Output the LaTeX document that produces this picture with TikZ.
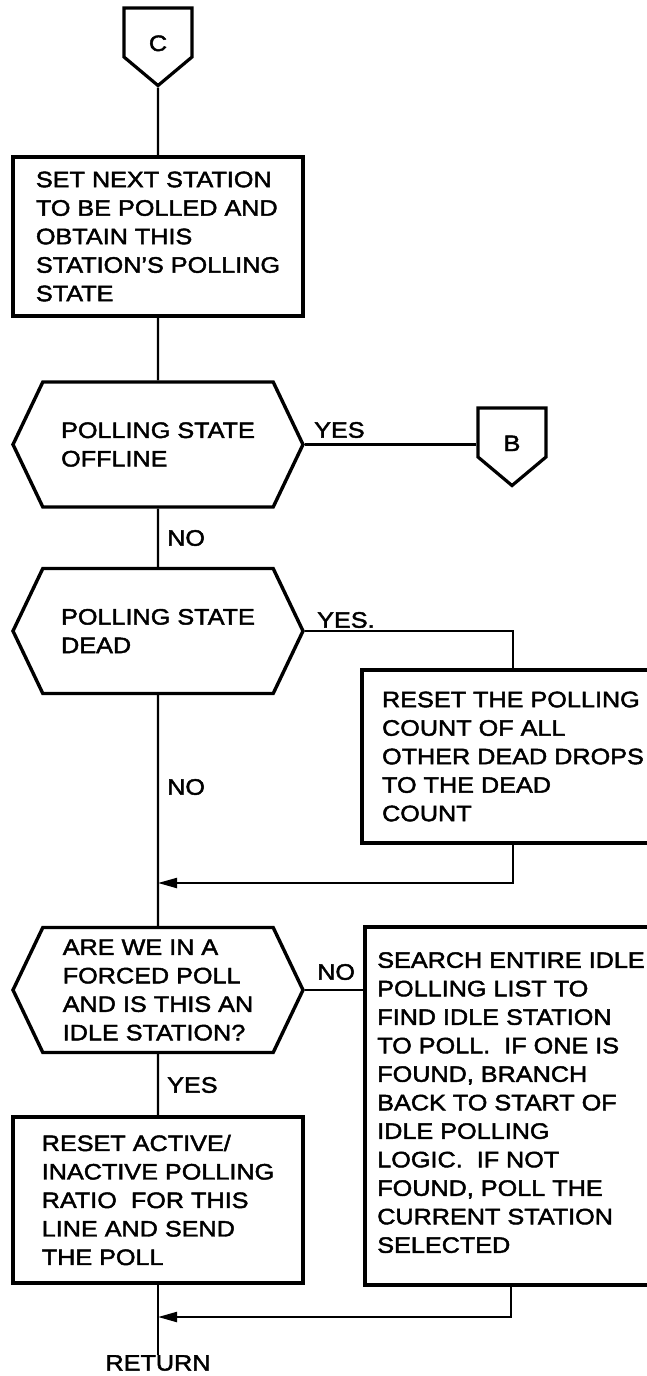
\documentclass[tikz,border=0pt]{standalone}
\usepackage{fontspec}
\setmainfont{Liberation Sans}[FakeStretch=1.13, FakeBold=2]
\usetikzlibrary{arrows.meta,calc,positioning,shapes.symbols}
\tikzset{flow/.style={line width=2.2pt},
  merge/.style={flow, -{Triangle[length=19pt, width=10pt]}},
  procbox/.style={draw, line width=3.2pt, align=left, minimum width=290pt},
  decision/.style={draw, line width=3.4pt, signal, signal to=west and east, signal pointer angle=129, align=left, minimum width=290pt, minimum height=125pt},
  offpage/.style={draw, line width=3.2pt, signal, signal to=south, signal pointer angle=100, inner sep=0pt, text height=43pt, text depth=6pt, minimum width=68pt, minimum height=0pt},
  lbl/.style={anchor=west, inner sep=0pt}}

\begin{document}
\begin{tikzpicture}[x=1pt, y=-1pt, font=\fontsize{22.3}{28.5}\selectfont]
  \path[use as bounding box, clip] (0,0) rectangle (647,1376);
  % entry and station state
  \node[offpage] (conC) at (158,32.5) {C};
  \node[procbox, minimum height=159pt] (setnext) at (158,236.5) {SET NEXT STATION\\TO BE POLLED AND\\OBTAIN THIS\\STATION’S POLLING\\STATE};
  \node[decision] (offl) at (158,444.5) {POLLING STATE\\OFFLINE};
  \node[offpage] (conB) at (512,432.5) {B};
  \node[decision] (dead) at (158,631) {POLLING STATE\\DEAD};
  \node[procbox, minimum width=302pt, minimum height=173pt] (resetdead) at (513,756.5) {RESET THE POLLING\\COUNT OF ALL\\OTHER DEAD DROPS\\TO THE DEAD\\COUNT};
  % forced poll test
  \node[decision] (forced) at (158,990) {ARE WE IN A\\FORCED POLL\\AND IS THIS AN\\IDLE STATION?};
  \node[procbox, minimum width=292pt, minimum height=358pt, text depth=7pt] (search) at (511,1106) {SEARCH ENTIRE IDLE\\POLLING LIST TO\\FIND IDLE STATION\\TO POLL.\ \ IF ONE IS\\FOUND, BRANCH\\BACK TO START OF\\IDLE POLLING\\LOGIC.\ \ IF NOT\\FOUND, POLL THE\\CURRENT STATION\\SELECTED};
  \node[procbox, minimum height=166pt] (resetratio) at (158,1200) {RESET ACTIVE/\\INACTIVE POLLING\\RATIO\ \ FOR THIS\\LINE AND SEND\\THE POLL};
  \node[inner sep=0pt] (ret) at (158,1363) {RETURN};
  \coordinate (join1) at (158,883);
  \coordinate (join2) at (158,1317);
  % flow lines
  \draw[flow] (conC) -- (setnext);
  \draw[flow] (setnext) -- (offl);
  \draw[flow] (offl.east) -- (offl.east -| conB.west);
  \draw[flow] (offl) -- (dead);
  \draw[flow] (dead.east) -| (resetdead.north);
  \draw[flow] (dead) -- (forced);
  \draw[merge] (resetdead.south) |- (join1);
  \draw[flow] (forced.east) -- (forced.east -| search.west);
  \draw[flow] (forced) -- (resetratio);
  \draw[merge] (search.south) |- (join2);
  \draw[flow] (resetratio) -- (ret);
  % branch labels
  \node[lbl] (yes1) at (314,430) {YES};
  \node[lbl] (no1) at (167,538) {NO};
  \node[lbl] (yes2) at (317,620) {YES.};
  \node[lbl] (no2) at (167,787) {NO};
  \node[lbl] (no3) at (317,972) {NO};
  \node[lbl] (yes3) at (167,1085) {YES};
\end{tikzpicture}
\end{document}
